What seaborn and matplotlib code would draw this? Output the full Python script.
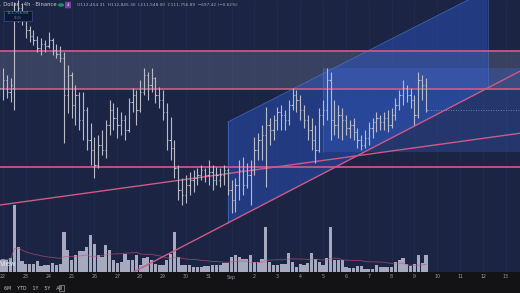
import numpy as np
import pandas as pd
import matplotlib
matplotlib.use("Agg")
import matplotlib.pyplot as plt
import seaborn as sns
from matplotlib.patches import Polygon, Rectangle, Circle, FancyBboxPatch

# ---------------- data (4h bars, BTC / U.S. Dollar, Binance) ----------------
opens = [112880, 112480, 112800, 112320, 112480, 115200, 115680, 115440, 114800, 114560,
         114400, 114080, 114240, 114160, 114400, 114000, 113840, 113680, 112200, 113000,
         111800, 112200, 111200, 111600, 110400, 110000, 109400, 110200, 110000, 111000,
         111600, 111280, 111000, 111200, 110800, 111920, 112200, 111600, 112320, 113000,
         112600, 112880, 112200, 112000, 111520, 110400, 110080, 109280, 108400, 108200,
         108600, 108800, 108880, 109000, 109200, 109000, 109120, 108800, 108800, 109000,
         109200, 108400, 108000, 108600, 109200, 108600, 109000, 109200, 110000, 110400,
         110600, 111000, 110800, 111200, 111520, 111400, 111200, 111800, 112200, 112000,
         111600, 111200, 110800, 110400, 110000, 111400, 111600, 112800, 111200, 111000,
         111400, 111200, 110880, 111000, 110720, 110400, 110200, 110480, 110880, 111120,
         111280, 111120, 111280, 111000, 111400, 111800, 112200, 112480, 112200, 112000,
         111400, 112800, 112600]
highs = [113200, 113280, 113000, 112880, 115920, 116000, 115880, 115520, 114960, 114800,
         114560, 114480, 114400, 114720, 114480, 114240, 114160, 113920, 113400, 113120,
         112600, 112320, 112320, 111720, 111080, 110520, 110600, 110800, 111200, 112000,
         111880, 111720, 111520, 111400, 112080, 112480, 112400, 112800, 113280, 113120,
         113280, 112920, 112520, 112400, 111880, 111320, 110400, 109400, 108880, 109000,
         109120, 109200, 109280, 109400, 109280, 109600, 109400, 109320, 109280, 109400,
         109280, 108800, 108880, 109600, 109720, 109480, 109600, 110520, 110680, 111000,
         111720, 111280, 111400, 111720, 111800, 111600, 112000, 112480, 112400, 112200,
         111800, 111400, 111280, 111000, 111680, 112000, 113280, 113120, 112000, 111800,
         111680, 111400, 111200, 111280, 110880, 110600, 110800, 111120, 111280, 111520,
         111400, 111520, 111600, 111680, 112080, 112400, 112800, 112600, 112480, 112200,
         113120, 113000, 112880]
lows = [112160, 112000, 112080, 111920, 111600, 115120, 115000, 114480, 114320, 114200,
        113920, 113800, 113920, 114080, 113800, 113680, 113520, 110280, 111480, 111280,
        111000, 110800, 110400, 110000, 109400, 108880, 109280, 109800, 109680, 110600,
        110800, 110480, 110600, 110400, 110720, 111520, 111000, 111520, 112200, 112000,
        112320, 111880, 111680, 111200, 110000, 109600, 108880, 108000, 107800, 107880,
        108200, 108320, 108600, 108800, 108720, 108600, 108400, 108600, 108520, 108600,
        108200, 107480, 107520, 108000, 108200, 108480, 107800, 109000, 109600, 109600,
        108520, 110200, 110400, 110800, 110800, 110800, 111000, 111600, 111520, 111200,
        110880, 110400, 110000, 109480, 109920, 111000, 111200, 110400, 110600, 110480,
        110400, 110600, 110480, 110400, 110080, 110000, 110080, 110200, 110480, 110720,
        110800, 110800, 110720, 110880, 111200, 111600, 111800, 111920, 111680, 111000,
        111280, 112000, 111520]
closes = [112480, 112800, 112320, 112600, 115200, 115680, 115520, 114800, 114560, 114400,
          114080, 114240, 114160, 114400, 114000, 113840, 113680, 112200, 113000, 111800,
          112200, 111200, 111600, 110400, 110000, 109400, 110200, 110000, 111000, 111600,
          111280, 111000, 111200, 110800, 111920, 112200, 111600, 112320, 113000, 112600,
          112880, 112200, 112000, 111520, 110400, 110080, 109280, 108400, 108200, 108600,
          108800, 108880, 109000, 109200, 109000, 109120, 108800, 109000, 109000, 109200,
          108400, 108000, 108600, 109200, 108600, 109000, 109200, 110000, 110400, 110600,
          111000, 110800, 111200, 111520, 111400, 111200, 111800, 112200, 112000, 111600,
          111200, 110800, 110400, 110000, 111400, 111600, 112800, 111200, 111000, 111400,
          111200, 110880, 111000, 110720, 110400, 110200, 110480, 110880, 111120, 111280,
          111120, 111280, 111000, 111400, 111800, 112200, 112480, 112200, 112000, 111400,
          112800, 112600, 111600]
volumes = [480, 520, 480, 560, 2680, 1000, 440, 320, 320, 320,
           440, 240, 280, 280, 360, 280, 320, 1600, 880, 480,
           680, 840, 840, 1000, 1480, 1120, 680, 600, 1080, 880,
           480, 360, 400, 720, 480, 480, 680, 280, 560, 600,
           480, 320, 280, 280, 480, 720, 1600, 600, 280, 280,
           280, 200, 200, 200, 240, 240, 280, 280, 280, 360,
           360, 600, 680, 600, 520, 520, 680, 400, 400, 520,
           1800, 400, 280, 280, 320, 320, 760, 400, 200, 320,
           280, 360, 760, 520, 400, 280, 560, 1800, 480, 480,
           480, 200, 160, 160, 240, 240, 120, 120, 120, 280,
           200, 200, 200, 200, 400, 480, 560, 320, 240, 320,
           680, 360, 680]
day_labels = ["22", "23", "24", "25", "26", "27", "28", "29", "30", "31", "Sep",
              "2", "3", "4", "5", "6", "7", "8", "9", "10", "11", "12", "13"]

# drawings (anchor points: days from 22 Aug 00:00, price)
h_levels = [113960, 112440, 109320]
band_range = (112440, 113960)
channel_low = [(9.833, 107080), (21.2, 112480)]
channel_high = [(9.833, 111120), (21.2, 116400)]
trend2 = [(0.0, 107816), (22.0, 110592)]
box_x0, box_low, box_high = 14.0, 109920, 113280

title_left = ". Dollar · 4h · Binance"
ohlc_text = "O112,454.31  H112,845.30  L111,548.00  C111,756.89  −697.42 (−0.62%)"
last_label = "111,756.89"

# ---------------- styling ----------------
sns.set_theme(style="dark")
plt.rcParams["font.family"] = ["DejaVu Sans"]

W, H = 520, 293
NAVY = "#1b2443"
PINK = "#cf5a86"
BARC = "#b9bdca"

times = pd.date_range("2025-08-21 20:00", periods=len(opens), freq="4h")
x = ((times - pd.Timestamp("2025-08-22")) / pd.Timedelta(days=1)).to_numpy(dtype=float)
o = np.array(opens, float); h = np.array(highs, float)
l = np.array(lows, float); c = np.array(closes, float)
v = np.array(volumes, float)

fig = plt.figure(figsize=(W / 100, H / 100), dpi=100, facecolor="#131315")
rect = [0, 21 / H, 1, 272 / H]
xlim = (-0.131, 22.615)
ylim = (105120, 116000)


def strip(a):
    a.set_xticks([])
    a.set_yticks([])
    a.set_xlabel("")
    a.set_ylabel("")
    a.grid(False)
    for s in a.spines.values():
        s.set_visible(False)


# volume axes (underneath, carries the navy background)
axv = fig.add_axes(rect)
axv.set_facecolor(NAVY)
axv.set_xlim(*xlim)
axv.set_ylim(0, 10880)
for d in range(len(day_labels)):
    axv.axvline(d, color="#2a3459", lw=0.5, alpha=0.5, zorder=0)
axv.bar(x, v, width=0.14, color="#b4b7cb", alpha=0.92, linewidth=0, zorder=2)
vol_ma = pd.Series(v).rolling(20, min_periods=1).mean()
sns.lineplot(x=x, y=vol_ma.values, ax=axv, color="#c0527d", lw=0.6, alpha=0.7, zorder=3)
axv.set_xlim(*xlim)
axv.set_ylim(0, 10880)
strip(axv)

# price axes (on top, transparent)
ax = fig.add_axes(rect)
ax.set_facecolor("none")
ax.set_xlim(*xlim)
ax.set_ylim(*ylim)

# grey band
ax.axhspan(band_range[0], band_range[1], color="#6c7290", alpha=0.38, lw=0, zorder=1)

# parallel channel fill
(cx0, lo0), (cx1, lo1) = channel_low
(_, hi0), (_, hi1) = channel_high
ax.add_patch(Polygon([(cx0, hi0), (cx1, hi1), (cx1, lo1), (cx0, lo0)], closed=True,
                     facecolor="#2d5bd6", alpha=0.42, lw=0, zorder=1.5))
ax.plot([cx0, cx1], [hi0, hi1], color="#4f7fe8", lw=0.6, alpha=0.6, zorder=1.6)
ax.plot([cx0, cx0], [lo0, hi0], color="#4f7fe8", lw=0.6, alpha=0.6, zorder=1.6)
ax.plot([cx1, cx1], [lo1, hi1], color="#4f7fe8", lw=0.6, alpha=0.5, zorder=1.6)

# box
ax.add_patch(Rectangle((box_x0, box_low), xlim[1] - box_x0, box_high - box_low,
                       facecolor="#3f6ee6", alpha=0.25, lw=0, zorder=1.7))
ax.plot([box_x0, box_x0], [box_low, box_high], color="#5a88ee", lw=0.5, alpha=0.5, zorder=1.7)

# horizontal levels
for lvl in h_levels:
    ax.axhline(lvl, color=PINK, lw=1.3, alpha=0.95, zorder=2)

# trend lines
ax.axline(channel_low[0], channel_low[1], color=PINK, lw=1.0, zorder=2.5)
ax.axline(trend2[0], trend2[1], color=PINK, lw=1.0, zorder=2.5)

# OHLC bars
tick = 0.055
ax.vlines(x, l, h, color=BARC, lw=0.8, zorder=4)
ax.hlines(o, x - tick, x, color=BARC, lw=0.8, zorder=4)
ax.hlines(c, x, x + tick, color=BARC, lw=0.8, zorder=4)

# last price dotted line
ax.plot([x[-1] + 0.1, xlim[1]], [c[-1], c[-1]], color="#8c93b0", lw=0.6, ls=(0, (1, 2)), zorder=3)
ax.set_xlim(*xlim)
ax.set_ylim(*ylim)
strip(ax)

# ---------------- texts ----------------
def fx(px):
    return px / W

def fy(py):
    return 1 - py / H

for d, lab in enumerate(day_labels):
    xp = (d - xlim[0]) / (xlim[1] - xlim[0])
    fig.text(xp, fy(277), lab, ha="center", va="center", fontsize=3.4, color="#9a9ca4")

fig.text(fx(4), fy(288), "6M    YTD    1Y    5Y    All", ha="left", va="center",
         fontsize=3.4, color="#c8c9ce")
fig.patches.append(Rectangle((fx(59), fy(291)), fx(5), 6 / H, transform=fig.transFigure,
                             fill=False, edgecolor="#9a9ca4", lw=0.5))

fig.text(fx(0), fy(5), title_left, ha="left", va="center", fontsize=3.8, color="#c9ccd6")
fig.patches.append(Circle((fx(61), fy(5)), 3.2 / W, transform=fig.transFigure,
                          facecolor="#1f8a70", edgecolor="none"))
fig.patches.append(FancyBboxPatch((fx(65.5), fy(8)), 5 / W, 6 / H, boxstyle="round,pad=0.001",
                                  transform=fig.transFigure, facecolor="#7b3ea8", edgecolor="none"))
fig.text(fx(68), fy(5), "4", ha="center", va="center", fontsize=3, color="#e8e0f0")
fig.text(fx(77), fy(5), ohlc_text, ha="left", va="center", fontsize=3.1, color="#a9aebe")

fig.patches.append(FancyBboxPatch((fx(3.5), fy(21)), 28 / W, 10 / H, boxstyle="square,pad=0",
                                  transform=fig.transFigure, facecolor="#0e1733",
                                  edgecolor="#34508f", lw=0.5))
fig.text(fx(17.5), fy(13.5), last_label, ha="center", va="center", fontsize=2.8, color="#5d8ff0")
fig.text(fx(17.5), fy(18), "16:00", ha="center", va="center", fontsize=2, color="#6f7894")

fig.text(fx(0), fy(264), "View", ha="left", va="center", fontsize=5, color="#e8e8ee")

fig.savefig("out.png", dpi=100, facecolor=fig.get_facecolor())
